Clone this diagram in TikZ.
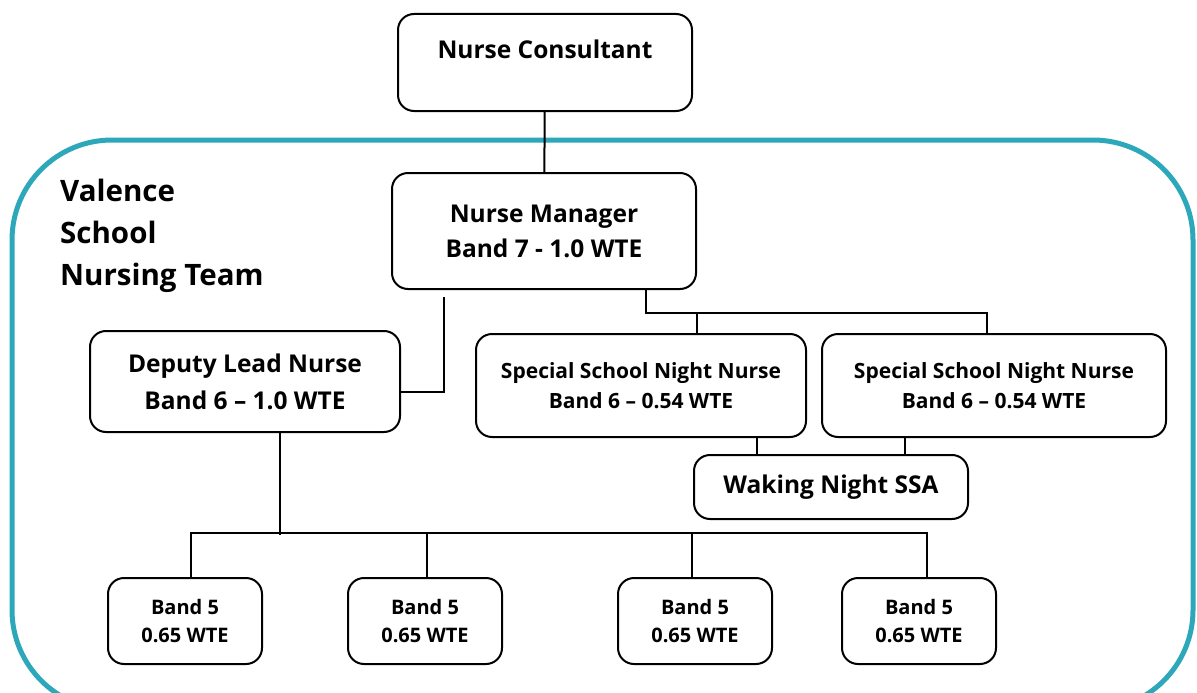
\documentclass[tikz,border=0pt]{standalone}
\usepackage{fontspec}
\setmainfont{Open Sans}
\usetikzlibrary{positioning, calc}

\definecolor{teamteal}{RGB}{44,168,186}

\begin{document}
\begin{tikzpicture}[x=1pt, y=-1pt,
    box/.style={draw, line width=2pt, rounded corners=16pt, inner sep=0pt, align=center,
        font=\bfseries\fontsize{24.5}{35}\selectfont},
    link/.style={line width=2pt},
    bandfive/.style={box, minimum width=154, minimum height=86,
        font=\bfseries\fontsize{20}{28}\selectfont}]
    \useasboundingbox (0,0) rectangle (1197,693);
    \clip (0,0) rectangle (1197,693);

    % Team frame
    \draw[teamteal, line width=5pt, rounded corners=100pt] (12,140) rectangle (1193,710);
    \node[anchor=north west, inner sep=0pt, align=left,
        font=\bfseries\fontsize{29.5}{42}\selectfont] (team) at (60,179)
        {Valence\\School\\Nursing Team};

    % Top of the tree
    \node[box, minimum width=294, minimum height=97, text depth=26pt] (cons) at (545,62.5) {Nurse Consultant};
    \node[box, minimum width=304, minimum height=116] (mgr) at (544,231) {Nurse Manager\\Band 7 - 1.0 WTE};
    \node[box, minimum width=310, minimum height=101, font=\bfseries\fontsize{24.5}{37}\selectfont] (deputy) at (245,381.5) {Deputy Lead Nurse\\Band 6 -- 1.0 WTE};

    % Night team
    \node[box, minimum width=330, minimum height=103, font=\bfseries\fontsize{21}{30}\selectfont] (night1) at (641,385.5) {Special School Night Nurse\\Band 6 -- 0.54 WTE};
    \node[box, minimum width=344, minimum height=103, font=\bfseries\fontsize{21}{30}\selectfont] (night2) at (994,385.5) {Special School Night Nurse\\Band 6 -- 0.54 WTE};
    \node[box, minimum width=274, minimum height=64] (ssa) at (831,487) {Waking Night SSA};

    % Band 5 nurses
    \foreach \x [count=\i] in {185,425,695,919} {
        \node[bandfive] (band\i) at (\x,621) {Band 5\\0.65 WTE};
    }

    % Connectors
    \draw[link] (cons) -- (mgr);
    \draw[link] ($(mgr.south west)+(53,7)$) |- ($(deputy.east)+(0,10)$);
    \draw[link] ($(mgr.south west)+(255,0)$) |- ($(night2.north)+(-7,-20)$) -- ($(night2.north)+(-7,0)$);
    \draw[link] ($(night1.north)+(56,-20)$) -- ($(night1.north)+(56,0)$);
    \draw[link] (ssa.north) ++(-74,0) coordinate (ssaleft) -- (ssaleft |- night1.south);
    \draw[link] (ssa.north) ++(74,0) coordinate (ssaright) -- (ssaright |- night2.south);
    \draw[link] ($(deputy.south)+(35,0)$) -- ++(0,102);
    \draw[link] ($(band1.north)+(6,0)$) -- ++(0,-44) -| ($(band4.north)+(8,0)$);
    \draw[link] ($(band2.north)+(2,0)$) -- ++(0,-44);
    \draw[link] ($(band3.north)+(-3,0)$) -- ++(0,-44);
\end{tikzpicture}
\end{document}
